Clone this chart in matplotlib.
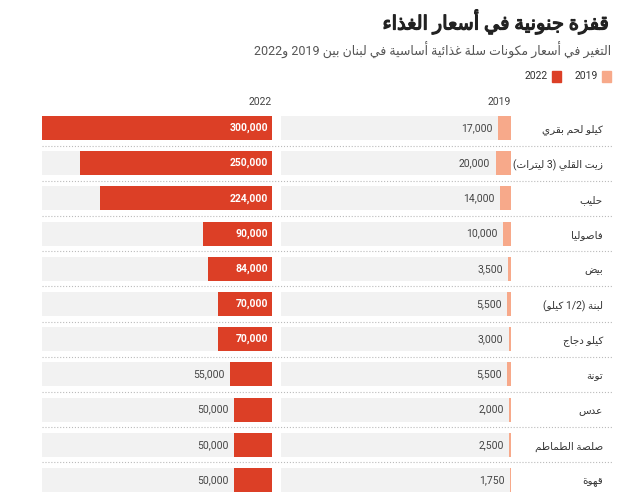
import re
import matplotlib
matplotlib.use("Agg")
import matplotlib.pyplot as plt
import matplotlib.patheffects as pe

plt.rcParams['font.family'] = ['Roboto', 'DejaVu Sans']

# data
items = ['كيلو لحم بقري', 'زيت القلي (3 ليترات)', 'حليب', 'فاصوليا', 'بيض',
         'لبنة (1/2 كيلو)', 'كيلو دجاج', 'تونة', 'عدس', 'صلصة الطماطم', 'قهوة']
price_2019 = [17000, 20000, 14000, 10000, 3500, 5500, 3000, 5500, 2000, 2500, 1750]
price_2022 = [300000, 250000, 224000, 90000, 84000, 70000, 70000, 55000, 50000, 50000, 50000]

title = 'قفزة جنونية في أسعار الغذاء'
subtitle = 'التغير في أسعار مكونات سلة غذائية أساسية في لبنان بين 2019 و2022'

# --- minimal arabic shaping (no reshaper lib available) ---
forms = {}
def add(ch, base, n):
    forms[ch] = [chr(base + i) for i in range(n)]
for ch, base in [('آ', 0xFE81), ('أ', 0xFE83), ('ؤ', 0xFE85), ('إ', 0xFE87), ('ا', 0xFE8D),
                 ('ة', 0xFE93), ('د', 0xFEA9), ('ذ', 0xFEAB), ('ر', 0xFEAD), ('ز', 0xFEAF),
                 ('و', 0xFEED), ('ى', 0xFEEF)]:
    add(ch, base, 2)
for ch, base in [('ئ', 0xFE89), ('ب', 0xFE8F), ('ت', 0xFE95), ('ث', 0xFE99), ('ج', 0xFE9D),
                 ('ح', 0xFEA1), ('خ', 0xFEA5), ('س', 0xFEB1), ('ش', 0xFEB5), ('ص', 0xFEB9),
                 ('ض', 0xFEBD), ('ط', 0xFEC1), ('ظ', 0xFEC5), ('ع', 0xFEC9), ('غ', 0xFECD),
                 ('ف', 0xFED1), ('ق', 0xFED5), ('ك', 0xFED9), ('ل', 0xFEDD), ('م', 0xFEE1),
                 ('ن', 0xFEE5), ('ه', 0xFEE9), ('ي', 0xFEF1)]:
    add(ch, base, 4)
forms['ء'] = ['\uFE80']
lamalef = {'ا': 0xFEFB, 'أ': 0xFEF7, 'إ': 0xFEF9, 'آ': 0xFEF5}


def shape(s):
    chars = list(s)
    out = []
    i = 0
    while i < len(chars):
        c = chars[i]
        if c not in forms:
            out.append(c); i += 1; continue
        prev = chars[i - 1] if i > 0 else ''
        join_prev = prev in forms and len(forms[prev]) == 4
        if c == 'ل' and i + 1 < len(chars) and chars[i + 1] in lamalef:
            base = lamalef[chars[i + 1]]
            out.append(chr(base + (1 if join_prev else 0)))
            i += 2; continue
        nxt = chars[i + 1] if i + 1 < len(chars) else ''
        f = forms[c]
        join_next = len(f) == 4 and nxt in forms
        if len(f) == 1:
            out.append(f[0])
        elif join_prev and join_next:
            out.append(f[3])
        elif join_prev:
            out.append(f[1])
        elif join_next:
            out.append(f[2])
        else:
            out.append(f[0])
        i += 1
    s = ''.join(out)[::-1]
    s = s.translate(str.maketrans('()', ')('))
    return re.sub(r'[0-9][0-9/,.]*', lambda m: m.group(0)[::-1], s)


W, H = 640, 497
fig = plt.figure(figsize=(W / 100, H / 100), dpi=100)

def fx(px):
    return px / W
def fy(py):
    return 1 - py / H

fig.text(fx(611), fy(22), shape(title), ha='right', va='center', fontsize=14,
         color='#222222', path_effects=[pe.withStroke(linewidth=0.9, foreground='#222222')])
fig.text(fx(611), fy(50), shape(subtitle), ha='right', va='center', fontsize=9, color='#555555')

c19, c22 = '#f7a98a', '#dc3f26'
fig.patches.append(plt.Rectangle((fx(602), fy(82)), 9 / W, 11 / H, transform=fig.transFigure, color=c19))
fig.text(fx(598), fy(76), '2019', ha='right', va='center', fontsize=7.5, color='#333333')
fig.patches.append(plt.Rectangle((fx(552), fy(82)), 9 / W, 11 / H, transform=fig.transFigure, color=c22))
fig.text(fx(548), fy(76), '2022', ha='right', va='center', fontsize=7.5, color='#333333')

n = len(items)
top, bottom = 110.4, 497.6

bg = fig.add_axes([0, fy(bottom), 1, (bottom - top) / H])
bg.set_xlim(0, W)
bg.set_ylim(n - 0.5, -0.5)
bg.axis('off')
for i, name in enumerate(items):
    bg.text(603, i + 0.05, shape(name), ha='right', va='center', fontsize=7.5, color='#333333')
    if i < n - 1:
        bg.plot([42, 612], [i + 0.5, i + 0.5], ls=':', color='#bbbbbb', lw=0.8)

vmax = 300000
panels = [(281, price_2019, c19, '2019'), (42, price_2022, c22, '2022')]
for left, vals, col, year in panels:
    ax = fig.add_axes([fx(left), fy(bottom), 230 / W, (bottom - top) / H])
    ax.set_xlim(vmax, 0)
    ax.set_ylim(n - 0.5, -0.5)
    ax.axis('off')
    ypos = list(range(n))
    ax.barh(ypos, [vmax] * n, height=0.68, color='#f2f2f2', left=0)
    ax.barh(ypos, vals, height=0.68, color=col)
    for y, v in zip(ypos, vals):
        lab = f'{v:,}'
        if year == '2022' and v >= 70000:
            ax.text(5000, y, lab, ha='right', va='center', fontsize=7.5, color='white',
                    fontweight='bold')
        else:
            ax.text(v + 7000, y, lab, ha='right', va='center', fontsize=7.5, color='#444444')
    fig.text(fx(left + 230), fy(102), year, ha='right', va='center', fontsize=7.5, color='#444444')

fig.savefig('out.png', dpi=100, facecolor='white')
